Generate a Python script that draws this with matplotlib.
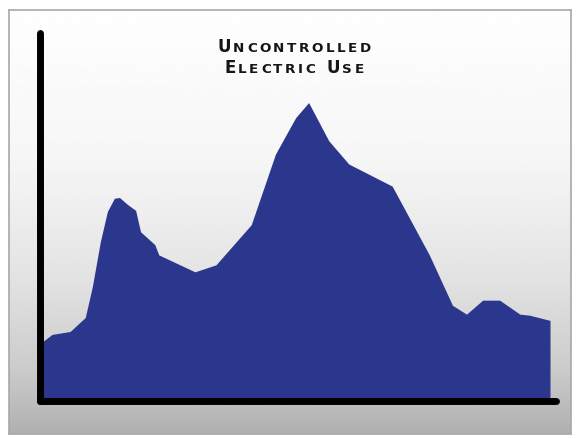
import matplotlib
matplotlib.use("Agg")
import matplotlib.pyplot as plt
import numpy as np

# Uso de energia ao longo do dia (horas, escala relativa 0-100)
horas = [0.0, 0.57, 1.42, 2.13, 2.46, 2.84, 3.17, 3.5, 3.74, 4.12, 4.5,
         4.73, 5.4, 5.59, 7.29, 8.28, 9.94, 11.08, 12.03, 12.64, 13.59,
         14.53, 16.57, 17.04, 18.32, 19.41, 20.07, 20.83, 21.63, 22.58,
         23.05, 24.0]
uso = [15.6, 18.1, 18.9, 22.7, 31.0, 43.3, 51.5, 55.1, 55.3, 53.4, 51.8,
       46.0, 42.5, 39.7, 35.1, 37.0, 47.9, 67.1, 77.0, 81.1, 70.7,
       64.4, 58.4, 53.4, 39.7, 26.0, 23.6, 27.4, 27.4, 23.6,
       23.3, 21.9]
titulo = ["UNCONTROLLED", "ELECTRIC USE"]

W, H = 576, 438
fig = plt.figure(figsize=(W / 100, H / 100), dpi=100)
fig.patch.set_facecolor("white")

# painel de fundo com gradiente vertical
bg = fig.add_axes([9 / W, 1 - 434 / H, 562 / W, 424 / H])
t = np.linspace(0, 1, 400)
niveis = np.interp(t, [0, 0.35, 0.62, 0.85, 1.0], [254, 246, 228, 203, 176]) / 255
grad = np.repeat(niveis[:, None], 2, axis=1)
bg.imshow(grad, cmap="gray", vmin=0, vmax=1, aspect="auto",
          extent=[0, 1, 0, 1], origin="upper")
bg.set_xticks([])
bg.set_yticks([])
for s in bg.spines.values():
    s.set_color("#a8a8a8")
    s.set_linewidth(1.2)

# area do grafico
ax = fig.add_axes([40 / W, 1 - 401 / H, 516 / W, 368 / H])
ax.set_facecolor("none")
ax.fill_between(horas, uso, 0, color="#2b378c", linewidth=0)
ax.set_xlim(0, 24 * 516 / 510)
ax.set_ylim(0, 100)
ax.set_xticks([])
ax.set_yticks([])
for s in ax.spines.values():
    s.set_visible(False)
ax.plot([0, 0], [0, 1], color="black", lw=5, solid_capstyle="round",
        transform=ax.transAxes, clip_on=False)
ax.plot([0, 1], [0, 0], color="black", lw=5, solid_capstyle="round",
        transform=ax.transAxes, clip_on=False)

# titulo em versalete, letra a letra
renderer = fig.canvas.get_renderer()
grande, pequeno, espaco, tracking = 12, 9.7, 6, 2.5


def medir(ch, size):
    tx = fig.text(0, 0, ch, fontsize=size, fontweight="bold")
    w = tx.get_window_extent(renderer).width
    tx.remove()
    return w


def versalete(linha, xc, yb):
    pecas = []
    for palavra in linha.split(" "):
        for i, ch in enumerate(palavra):
            size = grande if i == 0 else pequeno
            pecas.append((ch.upper(), size, medir(ch.upper(), size)))
        pecas.append((" ", 0, espaco))
    pecas = pecas[:-1]
    total = sum(p[2] for p in pecas) + tracking * (len(pecas) - 1)
    x = xc - total / 2
    for ch, size, w in pecas:
        if ch != " ":
            fig.text(x / W, 1 - yb / H, ch, fontsize=size, fontweight="bold",
                     color="#151515", ha="left", va="baseline")
        x += w + tracking


versalete(titulo[0], 294, 52)
versalete(titulo[1], 294, 73)

fig.savefig("out.png", dpi=100)
